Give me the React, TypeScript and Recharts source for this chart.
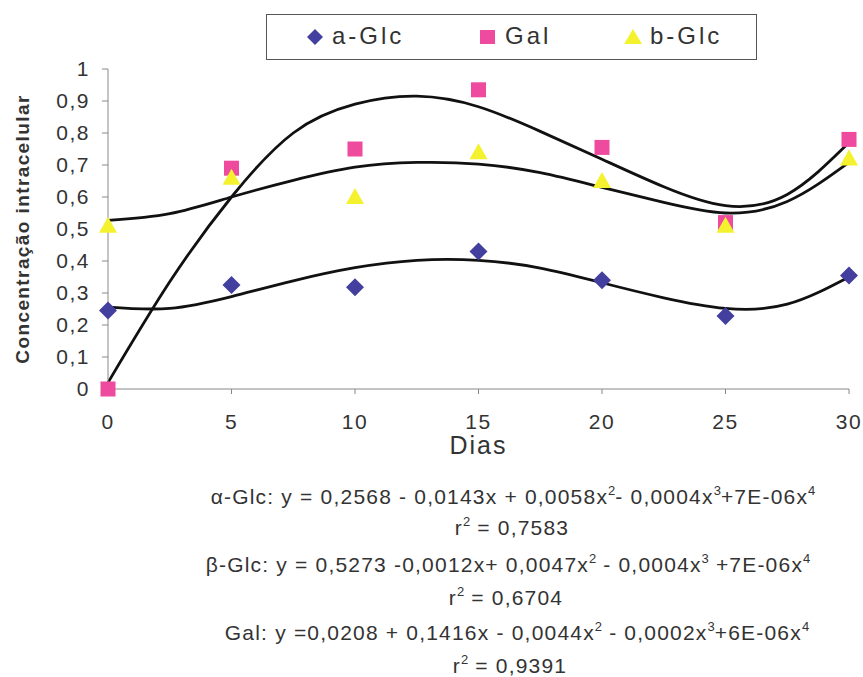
import React from "react";
import { ComposedChart, Scatter, Line, XAxis, YAxis, ZAxis, Label } from "recharts";

// dias de coleta
const DIAS = [0, 5, 10, 15, 20, 25, 30];
// valores medidos
const A_GLC = [0.245, 0.325, 0.318, 0.43, 0.34, 0.228, 0.355];
const GAL = [0.0, 0.69, 0.75, 0.935, 0.755, 0.52, 0.78];
const B_GLC = [0.51, 0.66, 0.6, 0.74, 0.65, 0.51, 0.72];

// linhas de tendência
const TREND_X = [0, 2.5, 5, 7.5, 10, 12.5, 15, 17.5, 20, 22.5, 25, 27.5, 30];
const TREND_A_GLC = [0.256, 0.252, 0.289, 0.338, 0.379, 0.402, 0.402, 0.378, 0.332, 0.285, 0.252, 0.265, 0.35];
const TREND_GAL = [0.02, 0.335, 0.6, 0.8, 0.89, 0.915, 0.882, 0.805, 0.718, 0.632, 0.573, 0.608, 0.77];
const TREND_B_GLC = [0.527, 0.548, 0.6, 0.652, 0.693, 0.708, 0.703, 0.676, 0.63, 0.583, 0.55, 0.586, 0.708];

const X_TICKS = [0, 5, 10, 15, 20, 25, 30];
const Y_TICKS = [0, 0.1, 0.2, 0.3, 0.4, 0.5, 0.6, 0.7, 0.8, 0.9, 1];

const points = (ys: number[]) => DIAS.map((d, i) => ({ x: d, y: ys[i] }));
const trend = (ys: number[]) => TREND_X.map((d, i) => ({ x: d, y: ys[i] }));

const FONT = "Liberation Sans, Arial, sans-serif";
const BLUE = "#433f9e";
const PINK = "#ee4b9e";
const YELLOW = "#f4f22e";

const Diamond = ({ cx, cy }: any) => (
  <polygon points={`${cx},${cy - 9} ${cx + 9},${cy} ${cx},${cy + 9} ${cx - 9},${cy}`} fill={BLUE} />
);
const Square = ({ cx, cy }: any) => (
  <rect x={cx - 7.5} y={cy - 7.5} width={15} height={15} fill={PINK} />
);
const Triangle = ({ cx, cy }: any) => (
  <polygon points={`${cx},${cy - 9} ${cx + 9},${cy + 7} ${cx - 9},${cy + 7}`} fill={YELLOW} />
);

const fmt = (v: number) => String(Math.round(v * 10) / 10).replace(".", ",");

const legendText: React.CSSProperties = {
  position: "absolute",
  top: 6,
  fontSize: 24,
  letterSpacing: 3,
  lineHeight: "30px",
  color: "#333",
};

const LegendBox = () => (
  <div
    style={{
      position: "absolute",
      left: 266,
      top: 14,
      width: 491,
      height: 46,
      border: "1px solid #555",
      boxSizing: "border-box",
      fontFamily: FONT,
      background: "#fff",
    }}
  >
    <svg width={20} height={20} style={{ position: "absolute", left: 38, top: 12 }}>
      <polygon points="10,2 18,10 10,18 2,10" fill={BLUE} />
    </svg>
    <span style={{ ...legendText, left: 65 }}>a-Glc</span>
    <svg width={18} height={18} style={{ position: "absolute", left: 212, top: 13 }}>
      <rect x={1} y={2} width={15} height={14} fill={PINK} />
    </svg>
    <span style={{ ...legendText, left: 238 }}>Gal</span>
    <svg width={20} height={20} style={{ position: "absolute", left: 356, top: 11 }}>
      <polygon points="10,3 19,18 1,18" fill={YELLOW} />
    </svg>
    <span style={{ ...legendText, left: 383 }}>b-Glc</span>
  </div>
);

const Sup = ({ children }: { children: React.ReactNode }) => (
  <span style={{ fontSize: 13, position: "relative", top: -9, letterSpacing: 0 }}>{children}</span>
);

const EqLine = ({ y, cx, children }: { y: number; cx: number; children: React.ReactNode }) => (
  <div
    style={{
      position: "absolute",
      top: y - 12,
      left: cx - 400,
      width: 800,
      textAlign: "center",
      fontFamily: FONT,
      fontSize: 21,
      letterSpacing: 1.2,
      lineHeight: "24px",
      color: "#333",
      whiteSpace: "nowrap",
    }}
  >
    {children}
  </div>
);

export default function App() {
  const tick = { fontSize: 21, fill: "#333", fontFamily: FONT, letterSpacing: 1.5 };
  return (
    <div style={{ position: "absolute", left: 0, top: 0, width: 863, height: 677, background: "#fff", overflow: "hidden" }}>
      <ComposedChart width={863} height={480} margin={{ top: 69, right: 14, left: 0, bottom: 21 }}>
        <XAxis
          type="number"
          dataKey="x"
          domain={[0, 30]}
          ticks={X_TICKS}
          tick={tick}
          tickSize={5}
          tickMargin={20}
          height={70}
          stroke="#888"
        >
          <Label
            value="Dias"
            position="insideTop"
            offset={47}
            style={{ fontSize: 25, fill: "#333", fontFamily: FONT, letterSpacing: 2 }}
          />
        </XAxis>
        <YAxis
          type="number"
          dataKey="y"
          domain={[0, 1]}
          ticks={Y_TICKS}
          tickFormatter={fmt}
          tick={tick}
          tickSize={6}
          tickMargin={12}
          width={108}
          stroke="#888"
          interval={0}
        >
          <Label
            value="Concentração intracelular"
            angle={-90}
            position="insideLeft"
            offset={22}
            style={{
              fontSize: 19,
              fontWeight: "bold",
              fill: "#333",
              textAnchor: "middle",
              fontFamily: FONT,
              letterSpacing: 1.4,
            }}
          />
        </YAxis>
        <ZAxis range={[150, 150]} />
        <Scatter name="a-Glc" data={points(A_GLC)} shape={<Diamond />} isAnimationActive={false} />
        <Scatter name="Gal" data={points(GAL)} shape={<Square />} isAnimationActive={false} />
        <Scatter name="b-Glc" data={points(B_GLC)} shape={<Triangle />} isAnimationActive={false} />
        <Line data={trend(TREND_A_GLC)} dataKey="y" type="natural" stroke="#111" strokeWidth={2.8} dot={false} legendType="none" isAnimationActive={false} />
        <Line data={trend(TREND_GAL)} dataKey="y" type="natural" stroke="#111" strokeWidth={2.8} dot={false} legendType="none" isAnimationActive={false} />
        <Line data={trend(TREND_B_GLC)} dataKey="y" type="natural" stroke="#111" strokeWidth={2.8} dot={false} legendType="none" isAnimationActive={false} />
      </ComposedChart>
      <LegendBox />
      <EqLine y={497} cx={513}>
        α-Glc: y = 0,2568 - 0,0143x + 0,0058x<Sup>2</Sup>- 0,0004x<Sup>3</Sup>+7E-06x<Sup>4</Sup>
      </EqLine>
      <EqLine y={528} cx={512}>
        r<Sup>2</Sup> = 0,7583
      </EqLine>
      <EqLine y={565} cx={508}>
        β-Glc: y = 0,5273 -0,0012x+ 0,0047x<Sup>2</Sup> - 0,0004x<Sup>3</Sup> +7E-06x<Sup>4</Sup>
      </EqLine>
      <EqLine y={598} cx={506}>
        r<Sup>2</Sup> = 0,6704
      </EqLine>
      <EqLine y={633} cx={517}>
        Gal: y =0,0208 + 0,1416x - 0,0044x<Sup>2</Sup> - 0,0002x<Sup>3</Sup>+6E-06x<Sup>4</Sup>
      </EqLine>
      <EqLine y={666} cx={510}>
        r<Sup>2</Sup> = 0,9391
      </EqLine>
    </div>
  );
}
